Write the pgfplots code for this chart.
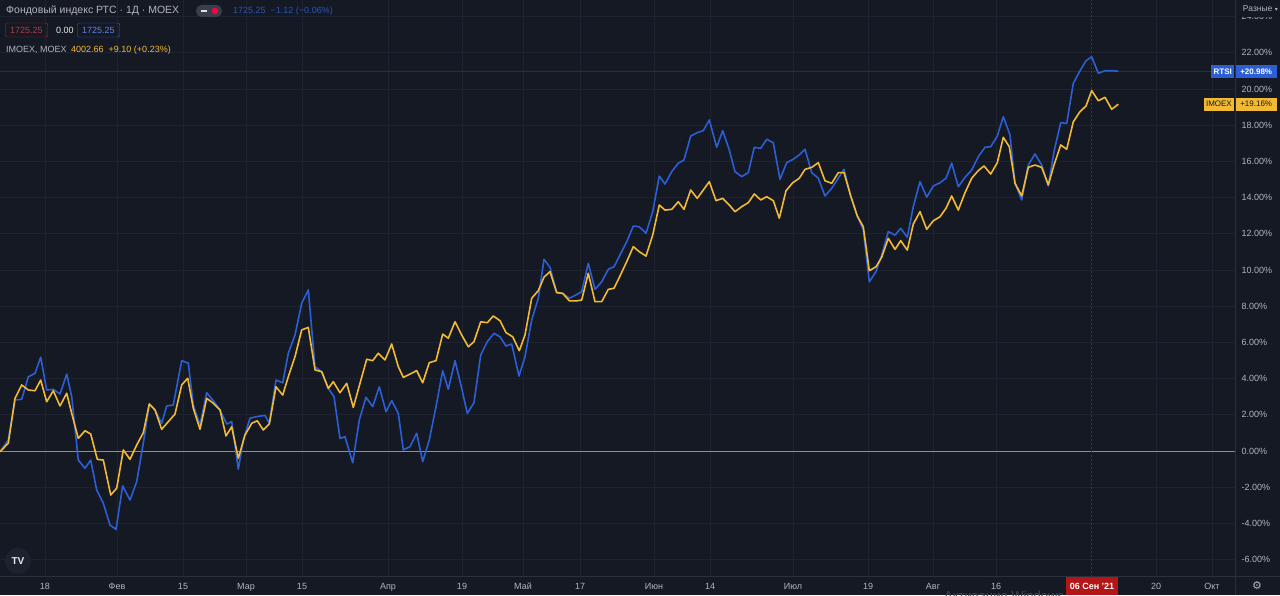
\documentclass[border=0pt]{standalone}
\usepackage{fontspec}
\setmainfont{Liberation Sans}
\newfontfamily\symfont{DejaVu Sans}
\usepackage{pgfplots}
\pgfplotsset{compat=1.18}

\definecolor{bg}{RGB}{21,25,36}
\definecolor{gridc}{RGB}{31,35,47}
\definecolor{sep}{RGB}{44,48,60}
\definecolor{txt}{RGB}{178,181,190}
\definecolor{rts}{RGB}{44,94,214}
\definecolor{imo}{RGB}{242,186,52}
\definecolor{zero}{RGB}{140,143,152}
\definecolor{cross}{RGB}{125,30,40}
\definecolor{crossbox}{RGB}{178,22,22}
\definecolor{redbox}{RGB}{170,40,52}
\definecolor{pill}{RGB}{58,62,74}
\definecolor{logobg}{RGB}{30,34,46}

\begin{document}
\begin{tikzpicture}[x=1pt,y=1pt]
\useasboundingbox (0,0) rectangle (1280,595);
\clip (0,0) rectangle (1280,595);
\fill[bg] (0,0) rectangle (1280,595);

\begin{axis}[
  at={(0pt,18pt)}, anchor=south west,
  width=1235pt, height=577pt, scale only axis,
  xmin=0, xmax=1235, ymin=-6.961, ymax=24.917,
  clip=false,
  axis line style={draw=none},
  tick style={draw=none},
  grid=major,
  major grid style={gridc, line width=0.8pt},
  xtick={45,117,183,246,302,388,462,523,580,654,710,793,868,933,996,1156,1212},
  xticklabels={18,Фев,15,Мар,15,Апр,19,Май,17,Июн,14,Июл,19,Авг,16,20,Окт},
  x tick label style={anchor=base, yshift=-12pt, text=txt,
    font=\fontsize{9}{10}\selectfont},
  ytick={-6,-4,...,24},
  yticklabels={-6.00\%,-4.00\%,-2.00\%,0.00\%,2.00\%,4.00\%,6.00\%,8.00\%,
    10.00\%,12.00\%,14.00\%,16.00\%,18.00\%,20.00\%,22.00\%,24.00\%},
  yticklabel pos=right,
  y tick label style={anchor=west, xshift=3pt, text=txt,
    font=\fontsize{9}{10}\selectfont},
]
% baseline and last price line
\draw[zero, line width=1pt] (axis cs:0,0) -- (axis cs:1235,0);
\draw[rts!30!bg, line width=0.8pt] (axis cs:0,20.98) -- (axis cs:1235,20.98);
% crosshair
\draw[cross, line width=1pt, dash pattern=on 2pt off 2pt]
  (axis cs:1091,-6.961) -- (axis cs:1091,24.917);

% RTSI
\addplot[rts, line width=1.6pt, line join=round] coordinates {
(0,-0.04)(8.3,0.61)(15,2.82)(21.7,2.86)(28.3,4.10)(35,4.29)(40.7,5.18)(46.7,3.37)
(53.3,3.41)(60,3.15)(66.7,4.25)(71.7,3.00)(78.3,-0.50)(85,-0.96)(90.7,-0.50)
(96.7,-2.15)(103.3,-2.89)(110,-4.09)(116,-4.33)(122.7,-1.93)(130,-2.71)(136.7,-1.70)
(143.3,0.43)(149.3,2.60)(155,2.27)(161.7,1.53)(166.7,2.49)(173.3,2.54)(181.7,4.99)
(188.3,4.85)(193.3,2.54)(200,1.44)(206.7,3.22)(213.3,2.78)(220,2.27)(226.7,1.49)
(231.7,1.62)(238.3,-1.01)(243.3,0.61)(250,1.81)(256.7,1.90)(265,1.97)(269.3,1.53)
(276,3.92)(282.7,3.77)(288.3,5.40)(295,6.41)(301.7,8.16)(308.3,8.90)(315,4.66)
(321.7,4.38)(328.3,3.46)(334,3.00)(340,0.70)(345,0.79)(352.7,-0.65)(359.3,1.71)
(366,2.97)(372.7,2.45)(379.3,3.55)(386,2.17)(391.7,2.78)(398.3,2.08)(403.3,0.06)
(410,0.24)(416.7,0.98)(422.7,-0.59)(429.3,0.61)(436,2.45)(442.7,4.44)(448.3,3.41)
(455,4.99)(461.7,3.46)(467.3,2.08)(474,2.67)(480.7,5.30)(487.3,6.04)(494,6.50)
(500,6.31)(506,5.80)(511.7,5.91)(519,4.14)(525,5.21)(531.7,7.24)(538.3,8.44)
(544,10.59)(550,10.15)(556.7,8.75)(562.7,8.71)(569.3,8.44)(576,8.62)(581.7,8.80)
(588.3,10.37)(595,8.93)(601.7,9.35)(608.3,10.04)(614,10.18)(620,10.83)(626.7,11.56)
(633.3,12.43)(639.3,12.39)(646,12.03)(652.7,13.22)(659.3,15.19)(665,14.75)
(671.7,15.43)(678.3,15.90)(684,16.08)(690.7,17.40)(697.3,17.59)(703.3,17.70)
(709.3,18.29)(716.7,16.78)(722.7,17.70)(729.3,16.63)(735,15.43)(741.7,15.16)
(748.3,15.38)(754.3,16.78)(760.7,16.72)(766.7,17.22)(773.3,17.03)(780,15.01)
(786.7,15.93)(793.3,16.12)(800,16.39)(805,16.67)(811.7,15.38)(818.3,15.07)
(825,14.09)(831.7,14.51)(838.3,15.07)(844,15.56)(850.7,14.09)(857.3,12.98)
(863.3,12.21)(869.3,9.35)(876,9.91)(881.7,10.83)(888.3,12.12)(895,11.93)
(900.7,12.30)(907.3,11.81)(913.3,13.50)(920,14.88)(926.7,14.02)(933.3,14.64)
(940,14.82)(946,15.07)(951.7,15.90)(958.3,14.60)(965,15.12)(971.7,15.52)
(978.3,16.26)(985,16.78)(990.7,16.81)(997.3,17.40)(1003.3,18.47)(1010,17.46)
(1015,14.79)(1021.7,13.87)(1028.3,15.80)(1035,16.41)(1041.7,15.80)(1048.3,14.64)
(1054,16.54)(1060.7,18.14)(1066.7,18.10)(1073.3,20.31)(1080,21.01)(1086,21.56)
(1091.7,21.78)(1098.3,20.87)(1105,21.01)(1111.7,21.01)(1118.3,20.98)
};

% IMOEX
\addplot[imo, line width=1.6pt, line join=round] coordinates {
(0,-0.04)(8.3,0.43)(15,2.91)(21.7,3.65)(28.3,3.37)(35,3.33)(40.7,3.92)(46.7,2.72)
(53.3,3.33)(60,2.49)(66.7,3.19)(71.7,2.08)(78.3,0.70)(85,1.12)(90.7,0.94)
(97.3,-0.46)(103.3,-0.50)(110.7,-2.43)(116.7,-2.06)(123.3,0.06)(130,-0.46)
(136.7,0.33)(143.3,1.01)(149.3,2.60)(155,2.27)(161.7,1.20)(168.3,1.62)(175,2.04)
(181.7,3.65)(187.7,4.02)(193.3,2.36)(200,1.20)(206.7,2.91)(213.3,2.64)(220,2.27)
(226,0.83)(231.7,1.34)(238.3,-0.40)(245,0.88)(251.7,1.53)(257.3,1.67)(263.3,1.16)
(269.3,1.49)(276,3.55)(282.7,3.09)(288.3,4.10)(295,5.21)(301.7,6.69)(308.3,6.83)
(315,4.48)(321.7,4.38)(328.3,3.46)(333.3,3.83)(340,3.22)(346.7,3.74)(353.3,2.41)
(360,3.74)(366.7,5.07)(372.7,4.99)(378.3,5.40)(385,5.03)(391.7,5.91)(398.3,4.66)
(403.3,4.07)(410,4.25)(416.7,4.44)(422.7,3.77)(429.3,4.88)(436,4.99)(442.7,6.46)
(448.3,6.23)(455,7.14)(461.7,6.41)(468.3,5.76)(474,6.04)(480.7,7.14)(487.3,7.09)
(493.3,7.46)(500,7.20)(506,6.54)(512.7,6.31)(519.3,5.54)(525,6.41)(531.7,8.44)
(538.3,8.86)(544,9.60)(550,9.91)(556.7,8.75)(562.7,8.71)(569.3,8.30)(576,8.29)
(581.7,8.34)(588.3,9.82)(595,8.25)(601.7,8.25)(608.3,8.93)(614,8.99)(620,9.67)
(626.7,10.46)(633.3,11.29)(639.3,11.01)(646,10.77)(652.7,11.93)(659.3,13.59)
(665,13.31)(671.7,13.35)(678.3,13.77)(684,13.35)(690.7,14.42)(697.3,13.96)
(703.3,14.42)(709.3,14.88)(716,13.83)(722.7,13.96)(729.3,13.59)(735,13.22)
(741.7,13.50)(748.3,13.72)(754.3,14.20)(760.7,13.87)(766.7,14.05)(773.3,13.83)
(779.3,12.86)(786,14.38)(792.7,14.82)(799.3,15.07)(805,15.56)(811.7,15.67)
(818.3,15.93)(825,14.93)(831.7,14.79)(838.3,15.38)(844,15.38)(850.7,14.09)
(857.3,12.98)(863.3,12.39)(869.3,9.96)(876,10.18)(881.7,10.70)(888.3,11.75)
(895,11.14)(900.7,11.62)(907.3,11.10)(913.3,12.54)(920,13.22)(926.7,12.25)
(933.3,12.72)(940,12.94)(946,13.41)(951.7,14.09)(958.3,13.31)(965,14.27)
(971.7,15.07)(978.3,15.49)(984,15.75)(990.7,15.30)(997.3,15.93)(1003.3,17.33)
(1009.3,16.81)(1015,14.79)(1021.7,14.09)(1028.3,15.67)(1035,15.80)(1041.7,15.67)
(1048.3,14.70)(1054,15.80)(1060.7,16.91)(1066.7,16.67)(1073.3,18.19)(1080,18.75)
(1086,19.06)(1091.7,19.91)(1098.3,19.35)(1105,19.54)(1111.7,18.88)(1118.3,19.16)
};

% last value labels on the price scale
\node[fill=rts, text=white, anchor=east, inner xsep=2.5pt, inner ysep=0pt,
  minimum height=13pt, font=\fontsize{8}{9}\selectfont\bfseries]
  at (axis cs:1234.5,20.98) {RTSI};
\node[fill=rts, text=white, anchor=west, inner xsep=2pt, inner ysep=0pt,
  minimum height=13pt, minimum width=41pt, font=\fontsize{8}{9}\selectfont\bfseries]
  at (axis cs:1235.5,20.98) {+20.98\%};
\node[fill=imo, text=bg, anchor=east, inner xsep=2.5pt, inner ysep=0pt,
  minimum height=13pt, font=\fontsize{8}{9}\selectfont]
  at (axis cs:1234.5,19.16) {IMOEX};
\node[fill=imo, text=bg, anchor=west, inner xsep=2pt, inner ysep=0pt,
  minimum height=13pt, minimum width=41pt, font=\fontsize{8}{9}\selectfont]
  at (axis cs:1235.5,19.16) {+19.16\%};
\end{axis}

% panel separators
\draw[sep, line width=1pt] (0,19) -- (1280,19);
\draw[sep, line width=1pt] (1235,0) -- (1235,595);

% crosshair date label
\node[fill=crossbox, text=white, minimum width=52pt, minimum height=18pt,
  inner sep=0pt, font=\fontsize{9}{10}\selectfont\bfseries] at (1092,9) {06 Сен '21};

% header
\node[anchor=west, text=txt, inner sep=0pt, font=\fontsize{10.5}{12}\selectfont]
  at (6,584) {Фондовый индекс РТС · 1Д · MOEX};
\fill[pill, rounded corners=5.5pt] (196,578) rectangle (222,590);
\draw[white!85!pill, line width=1.3pt] (201,584) -- (207,584);
\fill[red!75!magenta] (215,584) circle (3.2pt);
\node[anchor=west, inner sep=0pt, text=rts!85!bg, font=\fontsize{9}{10}\selectfont]
  at (233,584) {1725.25 \ −1.12 (−0.06\%)};

\node[anchor=west, draw=redbox, text=redbox!90!white, rounded corners=1.5pt,
  inner xsep=5pt, minimum height=14pt, font=\fontsize{9}{10}\selectfont]
  at (5,565) {1725.25};
\node[anchor=west, inner sep=0pt, text=white!90!bg, font=\fontsize{9}{10}\selectfont]
  at (56,565) {0.00};
\node[anchor=west, draw=rts, text=rts!75!white, rounded corners=1.5pt,
  inner xsep=5pt, minimum height=14pt, font=\fontsize{9}{10}\selectfont]
  at (77,565) {1725.25};

\node[anchor=west, inner sep=0pt, text=txt, font=\fontsize{9}{10}\selectfont]
  at (6,545) {IMOEX, MOEX};
\node[anchor=west, inner sep=0pt, text=imo, font=\fontsize{9}{10}\selectfont]
  at (71,545) {4002.66 \ +9.10 (+0.23\%)};

% price scale mode and settings
\node[fill=bg, anchor=north east, text=txt, inner xsep=2pt, minimum height=17pt,
  font=\fontsize{8.5}{9}\selectfont] at (1280,595) {Разные {\symfont\fontsize{6}{6}\selectfont ▾}};
\node[text=txt, font=\symfont\fontsize{11}{11}\selectfont] at (1257,9) {⚙};

% logo and watermark
\fill[logobg] (18,34) circle (13pt);
\node[text=white!90!bg, font=\bfseries\fontsize{10}{10}\selectfont] at (18,34) {TV};
\node[anchor=north west, inner sep=0pt, text=white!20!bg,
  font=\fontsize{13}{13}\selectfont] at (944,4) {Активация Windows};
\end{tikzpicture}
\end{document}
